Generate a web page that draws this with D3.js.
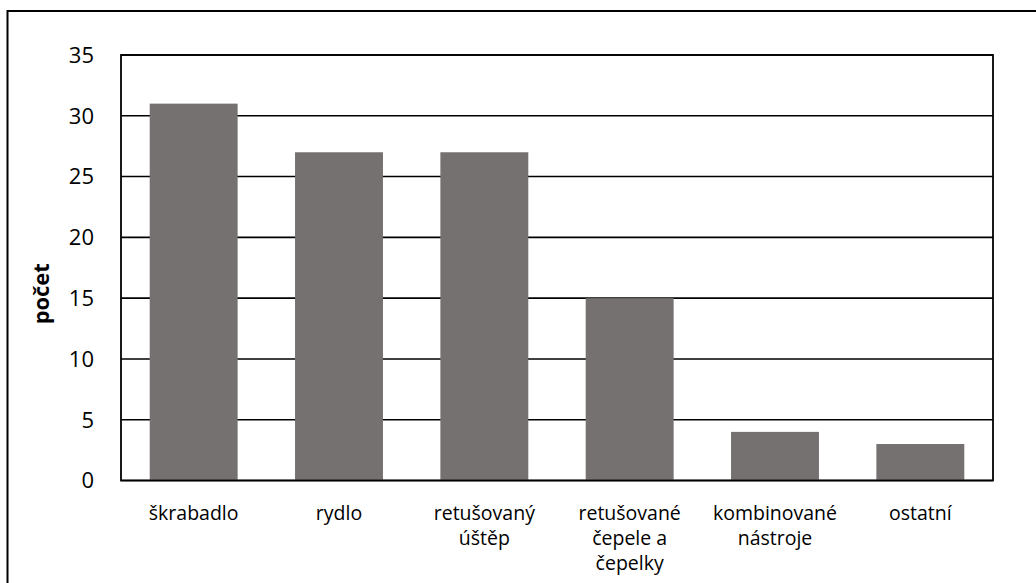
<!DOCTYPE html>
<html>
<head>
<meta charset="utf-8">
<script src="https://cdn.jsdelivr.net/npm/d3@7"></script>
<style>
  html, body { margin: 0; padding: 0; background: #fff; }
  svg { display: block; }
</style>
</head>
<body>
<svg id="chart" width="1036" height="583"></svg>
<script>
// Tool counts by category
const categories = [
  ["škrabadlo"],
  ["rydlo"],
  ["retušovaný", "úštěp"],
  ["retušované", "čepele a", "čepelky"],
  ["kombinované", "nástroje"],
  ["ostatní"]
];
const values = [31, 27, 27, 15, 4, 3];
const yTicks = [0, 5, 10, 15, 20, 25, 30, 35];
const yLabel = "počet";

const svg = d3.select("#chart");
const W = 1036, H = 583;
const font = "'Open Sans', Lato, sans-serif";

// outer frame (runs off the right and bottom edges)
svg.append("rect")
  .attr("x", 7.5).attr("y", 11)
  .attr("width", W + 10).attr("height", H + 10)
  .attr("fill", "none").attr("stroke", "#000").attr("stroke-width", 2);

const plot = { left: 121, right: 993, top: 55, bottom: 480.5 };

const x = d3.scaleBand()
  .domain(d3.range(categories.length))
  .range([plot.left, plot.right])
  .paddingInner(0.395)
  .paddingOuter(0.1975);

const y = d3.scaleLinear()
  .domain([0, 35])
  .range([plot.bottom, plot.top]);

// horizontal gridlines
svg.append("g")
  .selectAll("line")
  .data(yTicks)
  .join("line")
  .attr("x1", plot.left).attr("x2", plot.right)
  .attr("y1", d => y(d)).attr("y2", d => y(d))
  .attr("stroke", "#000").attr("stroke-width", 1.6);

// bars
svg.append("g")
  .selectAll("rect")
  .data(values)
  .join("rect")
  .attr("x", (d, i) => x(i))
  .attr("y", d => y(d))
  .attr("width", x.bandwidth())
  .attr("height", d => y(0) - y(d))
  .attr("fill", "#767171");

// plot-area border
svg.append("rect")
  .attr("x", plot.left).attr("y", plot.top)
  .attr("width", plot.right - plot.left)
  .attr("height", plot.bottom - plot.top)
  .attr("fill", "none").attr("stroke", "#000").attr("stroke-width", 1.8);

// y tick labels
svg.append("g")
  .selectAll("text")
  .data(yTicks)
  .join("text")
  .attr("x", 94)
  .attr("y", d => y(d))
  .attr("dy", "0.36em")
  .attr("text-anchor", "end")
  .attr("font-family", font)
  .attr("font-size", 22)
  .attr("fill", "#000")
  .text(d => d);

// category labels (multi-line)
const cat = svg.append("g")
  .selectAll("text")
  .data(categories)
  .join("text")
  .attr("text-anchor", "middle")
  .attr("font-family", font)
  .attr("font-size", 19.5)
  .attr("fill", "#000");
cat.each(function(lines, i) {
  const t = d3.select(this);
  lines.forEach((ln, k) => {
    t.append("tspan")
      .attr("x", x(i) + x.bandwidth() / 2)
      .attr("y", 520 + k * 25)
      .text(ln);
  });
});

// y axis title
svg.append("text")
  .attr("transform", `translate(49, ${(plot.top + plot.bottom) / 2 + 26}) rotate(-90)`)
  .attr("text-anchor", "middle")
  .attr("font-family", font)
  .attr("font-weight", "bold")
  .attr("font-size", 22)
  .attr("textLength", 61)
  .attr("lengthAdjust", "spacingAndGlyphs")
  .attr("fill", "#000")
  .text(yLabel);
</script>
</body>
</html>
